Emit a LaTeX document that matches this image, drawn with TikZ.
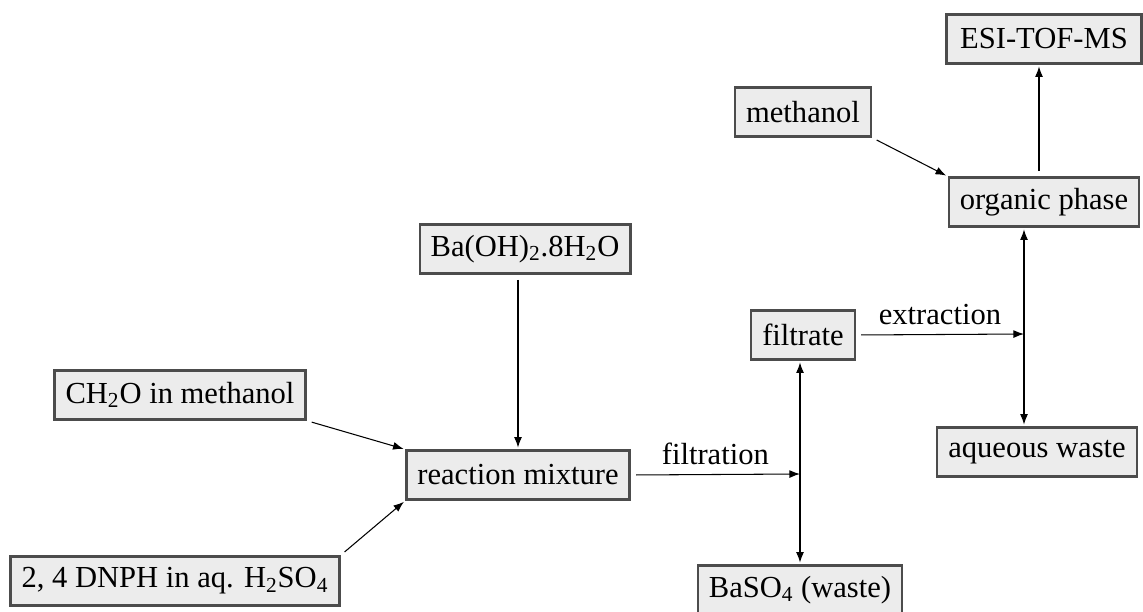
\documentclass[tikz,border=0pt]{standalone}
\usepackage{fontspec}
\setmainfont{Liberation Serif}
\usetikzlibrary{arrows.meta,positioning}
\begin{document}
\begin{tikzpicture}[x=0.02cm,y=-0.02cm,
	box/.style={draw=gray!60!black, line width=1.3pt, fill=gray!15, minimum height=0.98cm, inner xsep=0.22cm, font=\fontsize{17.4}{20}\selectfont},
	arr/.style={line width=0.6pt, -{Latex[length=6pt,width=4.5pt]}, shorten <=3pt, shorten >=1pt},
	lbl/.style={font=\fontsize{17.4}{20}\selectfont}]
		\useasboundingbox (0,0) rectangle (1143,612);
		\node[box, minimum width=3.9cm] (esi) at (1044,39) {ESI-TOF-MS};
		\node[box] (meth) at (803,112)  {methanol};
		\node[box] (org)  at (1044,202) {organic phase};
		\node[box] (baoh) at (525,249)  {Ba(OH)\textsubscript{2}.8H\textsubscript{2}O};
		\node[box] (filt) at (803,335)  {filtrate};
		\node[box] (ch2o) at (180,395)  {CH\textsubscript{2}O in methanol};
		\node[box] (aq)   at (1037,452) {aqueous waste};
		\node[box] (rm)   at (518,475)  {reaction mixture};
		\node[box] (dnph) at (175,581)  {2, 4 DNPH in aq. H\textsubscript{2}SO\textsubscript{4}};
		\node[box] (baso) at (800,590)  {BaSO\textsubscript{4} (waste)};
		\coordinate (up) at (1039,0);
		\coordinate (ex) at (1024,334);
		\coordinate (fx) at (800,474);
		\draw[arr] (org.north -| up) -- (esi.south -| up);
		\draw[arr] (meth.south east) -- (org.north west);
		\draw[arr, shorten >=0pt] (filt.east) -- (ex) node[lbl, midway, above=2pt] {extraction};
		\draw[arr, shorten <=0pt] (ex) -- (org.south -| ex);
		\draw[arr, shorten <=0pt] (ex) -- (aq.north -| ex);
		\draw[arr, shorten >=0pt] (rm.east) -- (fx) node[lbl, midway, above=2pt] {filtration};
		\draw[arr, shorten <=0pt] (fx) -- (filt.south -| fx);
		\draw[arr, shorten <=0pt] (fx) -- (baso.north -| fx);
		\draw[arr] (baoh.south -| rm.north) -- (rm.north);
		\draw[arr] (ch2o.south east) -- (rm.north west);
		\draw[arr] (dnph.north east) -- (rm.south west);
\end{tikzpicture}
\end{document}
